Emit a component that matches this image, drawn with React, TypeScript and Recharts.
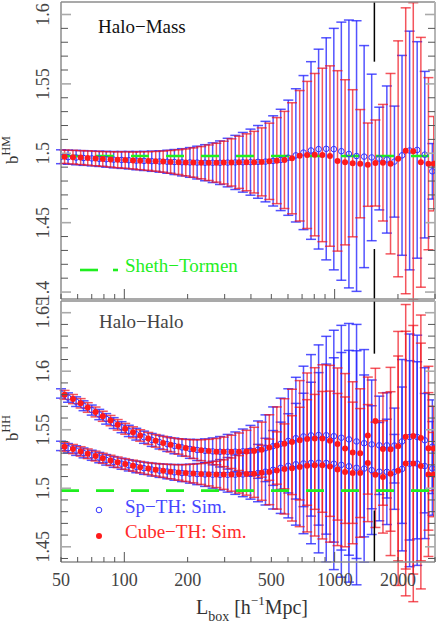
import React from "react";
import { ComposedChart, ErrorBar, ReferenceLine, Scatter, XAxis, YAxis } from "recharts";

// box sizes: Sp-TH (blue) and Cube-TH (red) sit on slightly different L_box grids
const blueX = [50, 54, 59, 64, 70, 76, 82, 89, 97, 105, 114, 124, 135, 147, 160, 173, 188, 205, 222, 242, 263, 285, 310, 337, 366, 398, 432, 469, 510, 554, 602, 654, 711, 772, 839, 912, 991, 1076, 1169, 1271, 1381, 1500, 1630, 1771, 1924, 2091, 2272, 2468, 2682, 2914];
const redX = [52, 57, 62, 67, 73, 79, 86, 93, 101, 110, 119, 130, 141, 153, 166, 181, 196, 213, 232, 252, 274, 297, 323, 351, 381, 414, 450, 489, 531, 577, 627, 682, 740, 804, 874, 950, 1032, 1121, 1218, 1323, 1438, 1562, 1697, 1844, 2004, 2177, 2365, 2570, 2792, 2960];

// halo-mass bias
const hmBlue = [1.4975, 1.4972, 1.4969, 1.4966, 1.4963, 1.496, 1.4957, 1.4954, 1.4952, 1.495,
  1.4947, 1.4945, 1.4943, 1.4941, 1.4939, 1.4937, 1.4935, 1.4934, 1.4933, 1.4932,
  1.4932, 1.4932, 1.4933, 1.4934, 1.4935, 1.4936, 1.4938, 1.494, 1.4945, 1.4952,
  1.4968, 1.4985, 1.5005, 1.502, 1.503, 1.5032, 1.503, 1.5015, 1.4995, 1.498,
  1.4976, 1.497, 1.4962, 1.4955, 1.494, 1.4985, 1.502, 1.5024, 1.499, 1.487];
const hmBlueErr = [0.005, 0.0051, 0.0052, 0.0053, 0.0054, 0.0055, 0.0057, 0.0059, 0.0061, 0.0063,
  0.0066, 0.0069, 0.0073, 0.0077, 0.0083, 0.009, 0.0098, 0.0107, 0.0118, 0.013,
  0.0143, 0.0157, 0.0175, 0.0195, 0.0215, 0.0238, 0.0262, 0.029, 0.0325, 0.0365,
  0.0415, 0.048, 0.0555, 0.064, 0.072, 0.08, 0.087, 0.093, 0.0965, 0.0975,
  0.08, 0.06, 0.037, 0.053, 0.04, 0.072, 0.086, 0.078, 0.06, 0.02];
const hmRed = [1.4975, 1.4972, 1.4969, 1.4966, 1.4962, 1.4959, 1.4956, 1.4953, 1.4951, 1.4948,
  1.4946, 1.4944, 1.4942, 1.494, 1.4938, 1.4936, 1.4934, 1.4933, 1.4932, 1.4932,
  1.4932, 1.4933, 1.4934, 1.4935, 1.4935, 1.4936, 1.4938, 1.4942, 1.4947, 1.4952,
  1.4964, 1.4982, 1.4988, 1.499, 1.4988, 1.498, 1.4945, 1.4935, 1.4928, 1.4925,
  1.4918, 1.493, 1.4932, 1.4925, 1.496, 1.5018, 1.5015, 1.4935, 1.4925, 1.4925];
const hmRedErr = [0.0048, 0.0049, 0.005, 0.0051, 0.0052, 0.0053, 0.0055, 0.0057, 0.0059, 0.0061,
  0.0064, 0.0067, 0.0071, 0.0076, 0.0082, 0.0089, 0.0097, 0.0106, 0.0116, 0.0128,
  0.014, 0.0154, 0.017, 0.0188, 0.0205, 0.0222, 0.0245, 0.0275, 0.031, 0.035,
  0.04, 0.047, 0.053, 0.0585, 0.0625, 0.065, 0.065, 0.0595, 0.053, 0.039,
  0.03, 0.031, 0.042, 0.065, 0.085, 0.103, 0.107, 0.09, 0.062, 0.034];

// halo-halo bias, two mass bins
const hhBlueHigh = [1.581, 1.5775, 1.574, 1.5705, 1.5668, 1.563, 1.5593, 1.5557, 1.5522, 1.549,
  1.5462, 1.5436, 1.5413, 1.5394, 1.5377, 1.5362, 1.5349, 1.5337, 1.5327, 1.532,
  1.5315, 1.5312, 1.5312, 1.5313, 1.5316, 1.5322, 1.533, 1.5342, 1.536, 1.538,
  1.5405, 1.5428, 1.5443, 1.5452, 1.5455, 1.5453, 1.5445, 1.5432, 1.5418, 1.54,
  1.5385, 1.5375, 1.5367, 1.5367, 1.5365, 1.54, 1.5438, 1.5438, 1.541, 1.5355];
const hhBlueLow = [1.5362, 1.5342, 1.5322, 1.5302, 1.5282, 1.5262, 1.5243, 1.5225, 1.521, 1.5196,
  1.5183, 1.5171, 1.516, 1.5151, 1.5143, 1.5136, 1.513, 1.5125, 1.5121, 1.5118,
  1.5116, 1.5115, 1.5115, 1.5116, 1.5118, 1.5122, 1.513, 1.5142, 1.5158, 1.5175,
  1.5192, 1.5205, 1.5212, 1.5216, 1.5218, 1.5216, 1.521, 1.52, 1.5188, 1.5175,
  1.5168, 1.5155, 1.5142, 1.514, 1.514, 1.5165, 1.521, 1.5211, 1.519, 1.517];
const hhBlueErr = [0.004, 0.004, 0.0041, 0.0042, 0.0043, 0.0044, 0.0045, 0.0046, 0.0047, 0.0048,
  0.005, 0.0052, 0.0055, 0.0058, 0.0062, 0.0067, 0.0073, 0.0081, 0.009, 0.0102,
  0.0115, 0.013, 0.0148, 0.0168, 0.019, 0.0215, 0.0245, 0.0285, 0.0335, 0.039,
  0.0445, 0.052, 0.06, 0.069, 0.077, 0.0845, 0.0905, 0.096, 0.099, 0.1,
  0.08, 0.055, 0.042, 0.045, 0.032, 0.07, 0.088, 0.087, 0.062, 0.04];
const hhRedHigh = [1.5798, 1.5762, 1.5726, 1.569, 1.5652, 1.5615, 1.5578, 1.5542, 1.5508, 1.5478,
  1.5451, 1.5426, 1.5405, 1.5387, 1.5371, 1.5357, 1.5345, 1.5334, 1.5325, 1.5318,
  1.5313, 1.5311, 1.5311, 1.5312, 1.5315, 1.5318, 1.533, 1.5348, 1.5365, 1.538,
  1.5396, 1.541, 1.542, 1.5425, 1.5425, 1.5405, 1.5378, 1.534, 1.5305, 1.53,
  1.545, 1.5575, 1.5335, 1.5333, 1.536, 1.544, 1.5447, 1.543, 1.5342, 1.534];
const hhRedLow = [1.5355, 1.5335, 1.5315, 1.5295, 1.5275, 1.5256, 1.5238, 1.5222, 1.5207, 1.5193,
  1.518, 1.5168, 1.5158, 1.515, 1.5142, 1.5135, 1.513, 1.5126, 1.5122, 1.512,
  1.5118, 1.5117, 1.5117, 1.5119, 1.5121, 1.5125, 1.5132, 1.514, 1.5152, 1.5165,
  1.517, 1.5182, 1.5192, 1.5197, 1.5197, 1.5185, 1.516, 1.514, 1.5131, 1.5131,
  1.5215, 1.5115, 1.5097, 1.5125, 1.515, 1.5211, 1.5211, 1.519, 1.5117, 1.5117];
const hhRedErr = [0.0038, 0.0039, 0.004, 0.0041, 0.0042, 0.0043, 0.0044, 0.0045, 0.0046, 0.0047,
  0.0049, 0.0051, 0.0054, 0.0057, 0.0061, 0.0066, 0.0072, 0.008, 0.0089, 0.01,
  0.0112, 0.0126, 0.0142, 0.016, 0.018, 0.0203, 0.0235, 0.028, 0.033, 0.0385,
  0.045, 0.051, 0.0565, 0.0605, 0.063, 0.0645, 0.065, 0.064, 0.0605, 0.055,
  0.05, 0.045, 0.048, 0.07, 0.098, 0.113, 0.118, 0.105, 0.07, 0.036];

const shethTormen = 1.498;
const boxLimit = 1545;

const xTicks = [50, 60, 70, 80, 90, 100, 200, 300, 400, 500, 600, 700, 800, 900, 1000, 2000, 3000];
const xMajor = [100, 1000];
const xLabels = [50, 100, 200, 500, 1000, 2000];
const hmTicks = [1.4, 1.41, 1.42, 1.43, 1.44, 1.45, 1.46, 1.47, 1.48, 1.49, 1.5, 1.51, 1.52, 1.53, 1.54, 1.55, 1.56, 1.57, 1.58, 1.59, 1.6];
const hmLabels = [1.4, 1.45, 1.5, 1.55, 1.6];
const hhTicks = [1.44, 1.45, 1.46, 1.47, 1.48, 1.49, 1.5, 1.51, 1.52, 1.53, 1.54, 1.55, 1.56, 1.57, 1.58, 1.59, 1.6, 1.61, 1.62, 1.63, 1.64, 1.65];
const hhLabels = [1.45, 1.5, 1.55, 1.6, 1.65];

const FONT = "'Liberation Serif', 'Times New Roman', serif";
const BLUE = "#3434ff";
const RED = "#ff1a1a";
const GREEN = "#1fee1f";
const AXIS = { stroke: "#8c8c8c", strokeWidth: 1.5 };

const rows = (xs: number[], ys: number[], es: number[]) => xs.map((x, i) => ({ x, y: ys[i], e: es[i] }));
const has = (list: number[], v: number) => list.some((l) => Math.abs(l - v) < 1e-6);

const noShape = () => <g />;
const openCircle = (p: any) => <circle cx={p.cx} cy={p.cy} r={2.8} fill="none" stroke={BLUE} strokeWidth={1} />;
const redDot = (p: any) => <circle cx={p.cx} cy={p.cy} r={3} fill={RED} />;

const xTick = (side: "bottom" | "top", labels: boolean) => (p: any) => {
  const v = p.payload.value;
  const len = has(xMajor, v) ? 10 : 5;
  const dir = side === "bottom" ? -1 : 1;
  return (
    <g>
      <line x1={p.x} x2={p.x} y1={p.y} y2={p.y + dir * len} stroke="#555" strokeWidth={1} />
      {labels && has(xLabels, v) && (
        <text x={p.x} y={p.y + 24} textAnchor="middle" fontFamily={FONT} fontSize={18} fill="#444">
          {v}
        </text>
      )}
    </g>
  );
};

const yTick = (side: "left" | "right", labels: number[] | null) => (p: any) => {
  const v = p.payload.value;
  const major = has(labels ?? hmLabels.concat(hhLabels), v);
  const len = major ? 10 : 7;
  const dir = side === "left" ? 1 : -1;
  return (
    <g>
      <line x1={p.x} x2={p.x + dir * len} y1={p.y} y2={p.y} stroke={major ? "#aaa" : "#555"} strokeWidth={major ? 1.6 : 1} />
      {labels && major && (
        <text x={49} y={p.y} transform={`rotate(-90, 49, ${p.y})`} textAnchor="middle" fontFamily={FONT} fontSize={18} fill="#444">
          {String(v)}
        </text>
      )}
    </g>
  );
};

type Series = { rows: { x: number; y: number; e: number }[]; color: "blue" | "red" };

function Panel({
  height,
  topH,
  bottomH,
  domain,
  ticks,
  labels,
  series,
  xLabelsOn,
  upperSeg,
  lowerSeg,
}: {
  height: number;
  topH: number;
  bottomH: number;
  domain: [number, number];
  ticks: number[];
  labels: number[];
  series: Series[];
  xLabelsOn: boolean;
  upperSeg: number;
  lowerSeg: number;
}) {
  const blues = series.filter((s) => s.color === "blue");
  const reds = series.filter((s) => s.color === "red");
  return (
    <ComposedChart width={436} height={height} margin={{ top: 0, right: 0, bottom: 0, left: 0 }}>
      <XAxis dataKey="x" type="number" scale="log" domain={[50, 3000]} allowDataOverflow ticks={xTicks} interval={0}
        tickSize={0} tickMargin={0} tickLine={false} axisLine={AXIS} height={bottomH} tick={xTick("bottom", xLabelsOn)} />
      <XAxis xAxisId="t" orientation="top" type="number" scale="log" domain={[50, 3000]} allowDataOverflow ticks={xTicks} interval={0}
        tickSize={0} tickMargin={0} tickLine={false} axisLine={AXIS} height={topH} tick={xTick("top", false)} />
      <YAxis type="number" domain={domain} allowDataOverflow ticks={ticks} interval={0} width={61}
        tickSize={0} tickMargin={0} tickLine={false} axisLine={AXIS} tick={yTick("left", labels)} />
      <YAxis yAxisId="r" orientation="right" type="number" domain={domain} allowDataOverflow ticks={ticks} interval={0} width={1}
        tickSize={0} tickMargin={0} tickLine={false} axisLine={{ stroke: "#b5b5b5", strokeWidth: 2 }} tick={yTick("right", null)} />
      {blues.map((s, i) => (
        <Scatter key={`bb${i}`} data={s.rows} dataKey="y" shape={noShape} isAnimationActive={false}>
          <ErrorBar dataKey="e" direction="y" width={5} stroke="rgba(40,40,255,0.8)" strokeWidth={1.5} isAnimationActive={false} />
        </Scatter>
      ))}
      {reds.map((s, i) => (
        <Scatter key={`rb${i}`} data={s.rows} dataKey="y" shape={noShape} isAnimationActive={false}>
          <ErrorBar dataKey="e" direction="y" width={5} stroke="rgba(240,20,30,0.72)" strokeWidth={1.5} isAnimationActive={false} />
        </Scatter>
      ))}
      {blues.map((s, i) => (
        <Scatter key={`bc${i}`} data={s.rows} dataKey="y" shape={openCircle} isAnimationActive={false} />
      ))}
      {reds.map((s, i) => (
        <Scatter key={`rd${i}`} data={s.rows} dataKey="y" shape={redDot} isAnimationActive={false} />
      ))}
      <ReferenceLine y={shethTormen} stroke={GREEN} strokeWidth={2.6} strokeDasharray="18 17" />
      <ReferenceLine segment={[{ x: boxLimit, y: upperSeg }, { x: boxLimit, y: domain[1] }]} stroke="#000" strokeWidth={1.5} />
      <ReferenceLine segment={[{ x: boxLimit, y: domain[0] }, { x: boxLimit, y: lowerSeg }]} stroke="#000" strokeWidth={1.5} />
    </ComposedChart>
  );
}

export default function App() {
  const txt = { fontFamily: FONT, fontSize: 19 };
  return (
    <div style={{ position: "absolute", left: 0, top: 0, width: 436, height: 631, background: "#fff", overflow: "hidden" }}>
      <div style={{ position: "absolute", left: 0, top: 0 }}>
        <Panel
          height={300}
          topH={2}
          bottomH={1}
          domain={[1.395, 1.609]}
          ticks={hmTicks}
          labels={hmLabels}
          xLabelsOn={false}
          upperSeg={1.566}
          lowerSeg={1.431}
          series={[
            { rows: rows(blueX, hmBlue, hmBlueErr), color: "blue" },
            { rows: rows(redX, hmRed, hmRedErr), color: "red" },
          ]}
        />
      </div>
      <div style={{ position: "absolute", left: 0, top: 300 }}>
        <Panel
          height={331}
          topH={1}
          bottomH={69}
          domain={[1.437, 1.66]}
          ticks={hhTicks}
          labels={hhLabels}
          xLabelsOn={true}
          upperSeg={1.615}
          lowerSeg={1.481}
          series={[
            { rows: rows(blueX, hhBlueHigh, hhBlueErr), color: "blue" },
            { rows: rows(blueX, hhBlueLow, hhBlueErr), color: "blue" },
            { rows: rows(redX, hhRedHigh, hhRedErr), color: "red" },
            { rows: rows(redX, hhRedLow, hhRedErr), color: "red" },
          ]}
        />
      </div>
      <svg width={436} height={631} style={{ position: "absolute", left: 0, top: 0, pointerEvents: "none" }}>
        <text x={98} y={33} {...txt} fill="#111">Halo−Mass</text>
        <text x={99} y={328} {...txt} fill="#444">Halo−Halo</text>

        <line x1={80} x2={98} y1={270} y2={270} stroke={GREEN} strokeWidth={2.6} />
        <line x1={113} x2={118} y1={270} y2={270} stroke={GREEN} strokeWidth={2.6} />
        <text x={125} y={272} {...txt} fill={GREEN}>Sheth−Tormen</text>

        <circle cx={99} cy={510} r={2.8} fill="none" stroke={BLUE} strokeWidth={1} />
        <text x={125} y={513} {...txt} fill="#4646ff">Sp−TH: Sim.</text>
        <circle cx={99} cy={536} r={3} fill={RED} />
        <text x={125} y={538} {...txt} fill="#ff2a2a">Cube−TH: Sim.</text>

        <text transform="translate(18,150) rotate(-90)" textAnchor="middle" fontFamily={FONT} fontSize={17} fill="#333">
          b<tspan dy={-8} fontSize={12}>HM</tspan>
        </text>
        <text transform="translate(18,428) rotate(-90)" textAnchor="middle" fontFamily={FONT} fontSize={17} fill="#333">
          b<tspan dy={-8} fontSize={12}>HH</tspan>
        </text>

        <text x={252} y={614} textAnchor="middle" fontFamily={FONT} fontSize={20} fill="#333">
          L<tspan dy={7} fontSize={14}>box</tspan>
          <tspan dy={-7}> [h</tspan>
          <tspan dy={-9} fontSize={13}>−1</tspan>
          <tspan dy={9}>Mpc]</tspan>
        </text>
      </svg>
    </div>
  );
}
